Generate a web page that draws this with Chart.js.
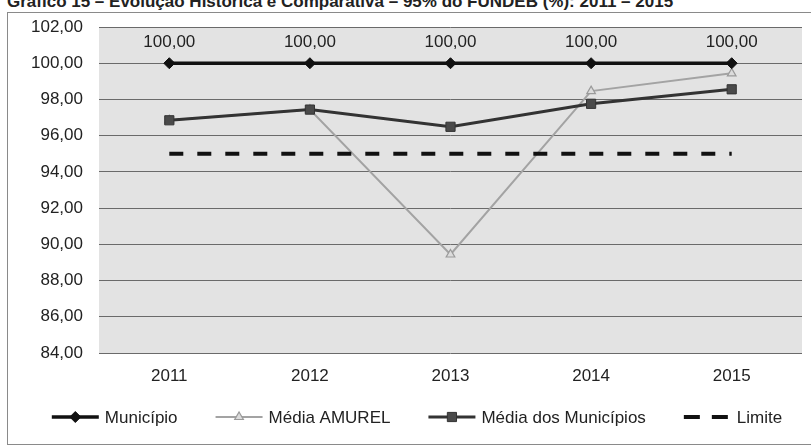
<!DOCTYPE html>
<html lang="pt">
<head>
<meta charset="utf-8">
<title>Gráfico 15</title>
<script src="https://cdn.jsdelivr.net/npm/chart.js@4"></script>
<style>
  html, body { margin: 0; padding: 0; background: #ffffff; }
  body { width: 811px; height: 446px; position: relative; overflow: hidden; font-family: "Liberation Sans", Arial, sans-serif; }
  .titulo { position: absolute; left: 7px; top: -7px; font-size: 17px; line-height: 17px; font-weight: bold; color: #222; white-space: nowrap; }
  .moldura { position: absolute; left: 7px; top: 12px; width: 820px; height: 431px; border: 1px solid #8a8a8a; }
  #grafico { position: absolute; left: 0; top: 0; }
</style>
</head>
<body>
<div class="titulo">Gráfico 15 – Evolução Histórica e Comparativa – 95% do FUNDEB (%): 2011 – 2015</div>
<div class="moldura"></div>
<canvas id="grafico" width="811" height="446"></canvas>
<script>
// Dados
const anos = ['2011', '2012', '2013', '2014', '2015'];
const municipio = [100, 100, 100, 100, 100];
const mediaAmurel = [96.85, 97.44, 89.44, 98.46, 99.44];
const mediaMunicipios = [96.85, 97.44, 96.49, 97.76, 98.56];
const limite = [95, 95, 95, 95, 95];
const eixoMin = 84;
const eixoMax = 102;
const eixoPasso = 2;

const fonte = '"Liberation Sans", Arial, sans-serif';

// formato brasileiro: 100,00
function formatar(v) {
    return Number(v).toFixed(2).replace('.', ',');
}

// Fundo cinza da área do gráfico
const fundoPlugin = {
    id: 'fundo',
    beforeDraw(chart) {
        const a = chart.chartArea;
        const ctx = chart.ctx;
        ctx.save();
        ctx.fillStyle = '#e3e3e3';
        ctx.fillRect(a.left, a.top, a.right - a.left, a.bottom - a.top);
        ctx.restore();
    }
};

// Rótulos "100,00" acima da série Município
const rotulosPlugin = {
    id: 'rotulos',
    afterDatasetsDraw(chart) {
        const ctx = chart.ctx;
        const meta = chart.getDatasetMeta(0);
        ctx.save();
        ctx.font = '17px ' + fonte;
        ctx.fillStyle = '#222';
        ctx.textAlign = 'center';
        ctx.textBaseline = 'middle';
        meta.data.forEach((pt, i) => {
            ctx.fillText(formatar(municipio[i]), pt.x, pt.y - 21);
        });
        ctx.restore();
    }
};

function drawMarker(ctx, estilo, r, x, y) {
    ctx.beginPath();
    if (estilo === 'rectRot') {
        ctx.moveTo(x - r, y); ctx.lineTo(x, y - r); ctx.lineTo(x + r, y); ctx.lineTo(x, y + r);
    } else if (estilo === 'rect') {
        const s = Math.SQRT1_2 * r;
        ctx.rect(x - s, y - s, 2 * s, 2 * s);
    } else if (estilo === 'triangle') {
        ctx.moveTo(x, y - r);
        ctx.lineTo(x + r * 0.866, y + r * 0.5);
        ctx.lineTo(x - r * 0.866, y + r * 0.5);
    }
    ctx.closePath();
    ctx.fill();
    ctx.stroke();
}

// Legenda desenhada à mão (linha com marcador no meio)
const legendaPlugin = {
    id: 'legenda',
    afterDraw(chart) {
        const ctx = chart.ctx;
        const y = 417;
        const linha = 47;
        const gapTexto = 6;
        const gapItem = 38;
        ctx.save();
        ctx.font = '17px ' + fonte;
        const itens = chart.data.datasets.map(ds => ({ ds, w: ctx.measureText(ds.label).width }));
        const total = itens.reduce((s, it) => s + linha + gapTexto + it.w, 0) + gapItem * (itens.length - 1);
        let x = 417 - total / 2;
        itens.forEach(it => {
            const ds = it.ds;
            ctx.strokeStyle = ds.borderColor;
            ctx.lineWidth = ds.borderWidth;
            ctx.setLineDash(ds.borderDash ? [16, 12] : []);
            ctx.beginPath();
            ctx.moveTo(x, y);
            ctx.lineTo(x + linha, y);
            ctx.stroke();
            ctx.setLineDash([]);
            if (ds.pointRadius > 0) {
                ctx.fillStyle = ds.pointBackgroundColor;
                ctx.strokeStyle = ds.pointBorderColor;
                ctx.lineWidth = ds.pointBorderWidth;
                drawMarker(ctx, ds.pointStyle, ds.pointRadius, x + linha / 2, y);
            }
            ctx.fillStyle = '#222';
            ctx.textAlign = 'left';
            ctx.textBaseline = 'middle';
            ctx.fillText(ds.label, x + linha + gapTexto, y + 1);
            x += linha + gapTexto + it.w + gapItem;
        });
        ctx.restore();
    }
};

const ctx = document.getElementById('grafico').getContext('2d');

new Chart(ctx, {
    type: 'line',
    data: {
        labels: anos,
        datasets: [
            {
                label: 'Município',
                data: municipio,
                borderColor: '#111',
                borderWidth: 3.5,
                pointStyle: 'rectRot',
                pointRadius: 5.5,
                pointBackgroundColor: '#111',
                pointBorderColor: '#111',
                pointBorderWidth: 1,
                order: 0
            },
            {
                label: 'Média AMUREL',
                data: mediaAmurel,
                borderColor: '#a3a3a3',
                borderWidth: 2,
                pointStyle: 'triangle',
                pointRadius: 5,
                pointBackgroundColor: '#dcdcdc',
                pointBorderColor: '#9a9a9a',
                pointBorderWidth: 1.2,
                order: 3
            },
            {
                label: 'Média dos Municípios',
                data: mediaMunicipios,
                borderColor: '#333',
                borderWidth: 3,
                pointStyle: 'rect',
                pointRadius: 6.5,
                pointBackgroundColor: '#4a4a4a',
                pointBorderColor: '#333',
                pointBorderWidth: 1,
                order: 1
            },
            {
                label: 'Limite',
                data: limite,
                borderColor: '#111',
                borderWidth: 4,
                borderDash: [14, 14],
                pointRadius: 0,
                pointBackgroundColor: '#111',
                pointBorderColor: '#111',
                pointBorderWidth: 0,
                order: 2
            }
        ]
    },
    options: {
        responsive: false,
        animation: false,
        layout: {
            padding: { left: 0, right: 9, top: 27, bottom: 0 }
        },
        plugins: {
            legend: { display: false },
            tooltip: { enabled: false }
        },
        scales: {
            x: {
                offset: true,
                grid: { display: false, drawTicks: false },
                border: { display: false },
                ticks: {
                    color: '#222',
                    padding: 13,
                    font: { family: fonte, size: 17 },
                    maxRotation: 0
                },
                afterFit(scale) { scale.height = 93; }
            },
            y: {
                min: eixoMin,
                max: eixoMax,
                grid: { color: '#6a6a6a', lineWidth: 1, drawTicks: false },
                border: { display: false },
                ticks: {
                    stepSize: eixoPasso,
                    color: '#222',
                    padding: 16,
                    font: { family: fonte, size: 17 },
                    callback: v => formatar(v)
                },
                afterFit(scale) { scale.width = 99; }
            }
        }
    },
    plugins: [fundoPlugin, rotulosPlugin, legendaPlugin]
});
</script>
</body>
</html>
